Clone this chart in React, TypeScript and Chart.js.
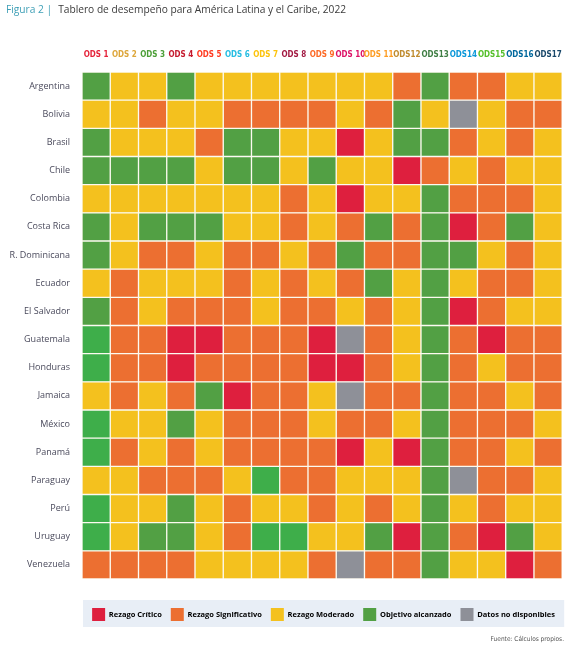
import React, { useEffect, useRef } from "react";
import { Chart, registerables } from "chart.js";

Chart.register(...registerables);

// ---- Data ----
const countries = [
  "Argentina", "Bolivia", "Brasil", "Chile", "Colombia", "Costa Rica",
  "R. Dominicana", "Ecuador", "El Salvador", "Guatemala", "Honduras", "Jamaica",
  "México", "Panamá", "Paraguay", "Perú", "Uruguay", "Venezuela",
];

const odsLabels = [
  "ODS 1", "ODS 2", "ODS 3", "ODS 4", "ODS 5", "ODS 6", "ODS 7", "ODS 8", "ODS 9",
  "ODS 10", "ODS 11", "ODS12", "ODS13", "ODS14", "ODS15", "ODS16", "ODS17",
];

const odsColors = [
  "#E5243B", "#DDA63A", "#4C9F38", "#C5192D", "#FF3A21", "#26BDE2", "#FCC30B",
  "#A21942", "#FD6925", "#DD1367", "#FD9D24", "#BF8B2E", "#3F7E44", "#0A97D9",
  "#56C02B", "#00689D", "#19486A",
];

// C = Rezago Crítico, S = Rezago Significativo, M = Rezago Moderado,
// A = Objetivo alcanzado, G = Objetivo alcanzado (tono claro), N = Datos no disponibles
const argentina = ["A","M","M","A","M","M","M","M","M","M","M","S","A","S","S","M","M"];
const bolivia = ["M","M","S","M","M","S","S","S","S","M","S","A","M","N","M","S","S"];
const brasil = ["A","M","M","M","S","A","A","M","M","C","M","A","A","S","M","S","M"];
const chile = ["A","A","A","A","M","A","A","M","A","M","M","C","S","M","S","M","M"];
const colombia = ["M","M","M","M","M","M","M","S","M","C","M","M","A","S","S","S","M"];
const costaRica = ["A","M","A","A","A","M","M","S","M","S","A","S","A","C","S","A","M"];
const rDominicana = ["A","M","S","S","M","S","S","M","S","A","S","S","A","A","M","S","M"];
const ecuador = ["M","S","M","M","M","S","M","S","M","S","A","M","A","M","S","S","M"];
const elSalvador = ["A","S","M","S","S","S","M","S","S","M","S","M","A","C","S","M","M"];
const guatemala = ["G","S","S","C","C","S","S","S","C","N","S","M","A","S","C","S","S"];
const honduras = ["G","S","S","C","S","S","S","S","C","C","S","M","A","S","M","S","S"];
const jamaica = ["M","S","M","S","A","C","S","S","M","N","S","S","A","S","S","M","S"];
const mexico = ["G","M","M","A","M","S","S","S","M","S","S","M","A","S","S","S","M"];
const panama = ["G","S","M","S","M","S","S","S","S","C","M","C","A","S","S","M","S"];
const paraguay = ["M","M","S","S","S","M","G","S","S","M","M","M","A","N","S","S","M"];
const peru = ["G","M","M","A","M","S","M","M","S","M","S","M","A","M","S","M","M"];
const uruguay = ["G","M","A","A","M","S","G","G","M","M","A","C","A","S","C","A","M"];
const venezuela = ["S","S","S","S","M","M","M","M","S","N","S","S","A","M","M","C","S"];

const statusRows = [
  argentina, bolivia, brasil, chile, colombia, costaRica, rDominicana, ecuador,
  elSalvador, guatemala, honduras, jamaica, mexico, panama, paraguay, peru,
  uruguay, venezuela,
];

const legendLabels = [
  "Rezago Crítico", "Rezago Significativo", "Rezago Moderado",
  "Objetivo alcanzado", "Datos no disponibles",
];
const legendCodes = ["C", "S", "M", "A", "N"];

const statusColors: Record<string, string> = {
  C: "#DE1F3E",
  S: "#EC6F31",
  M: "#F4C11E",
  A: "#52A044",
  G: "#3EAE4A",
  N: "#8E9098",
};

const legendBgPlugin = {
  id: "legendBg",
  beforeDraw(chart: any) {
    const lg = chart.legend;
    const ca = chart.chartArea;
    if (!lg || !ca) return;
    const ctx = chart.ctx;
    ctx.save();
    ctx.fillStyle = "#E8EEF6";
    ctx.fillRect(ca.left + 1, lg.top + 1, ca.right - ca.left + 1, 27);
    ctx.restore();
  },
};

export default function App() {
  const ref = useRef<HTMLCanvasElement | null>(null);

  useEffect(() => {
    if (!ref.current) return;
    const datasets = odsLabels.map((label, j) => ({
      label,
      data: countries.map(() => 1),
      backgroundColor: statusRows.map((row) => statusColors[row[j]]),
      borderColor: "#FCFAF0",
      borderWidth: 1,
      borderSkipped: false as const,
      barPercentage: 1,
      categoryPercentage: 1,
    }));

    const chart = new Chart(ref.current, {
      type: "bar",
      data: { labels: countries, datasets },
      plugins: [legendBgPlugin],
      options: {
        indexAxis: "y",
        animation: false,
        responsive: false,
        devicePixelRatio: 1,
        layout: { padding: { top: 0, right: 10, left: 0, bottom: 27 } },
        scales: {
          x: {
            type: "linear",
            stacked: true,
            min: 0,
            max: odsLabels.length,
            position: "bottom",
            ticks: { display: false },
            grid: { display: false, drawTicks: false },
            border: { display: false },
            afterFit: (s: any) => { s.height = 20; },
          },
          x2: {
            type: "category",
            axis: "x",
            position: "top",
            labels: odsLabels,
            offset: true,
            grid: { display: false, drawTicks: false },
            border: { display: false },
            ticks: {
              padding: 12,
              maxRotation: 0,
              autoSkip: false,
              color: (c: any) => odsColors[c.index] || "#333",
              font: { family: "'Liberation Sans Narrow', 'DejaVu Sans Condensed', sans-serif", size: 8, weight: "bold" },
            },
            afterFit: (s: any) => { s.height = 72; },
          },
          y: {
            type: "category",
            stacked: true,
            offset: true,
            grid: { display: false, drawTicks: false },
            border: { display: false },
            ticks: {
              padding: 12,
              autoSkip: false,
              color: "#4A4A5C",
              font: { family: "'Open Sans', sans-serif", size: 9 },
            },
            afterFit: (s: any) => { s.width = 82; },
          },
        },
        plugins: {
          tooltip: { enabled: false },
          legend: {
            display: true,
            position: "bottom",
            fullSize: true,
            align: "end",
            labels: {
              boxWidth: 13,
              boxHeight: 13,
              padding: 9,
              color: "#222",
              font: { family: "'Open Sans', sans-serif", size: 7.5, weight: "bold" },
              generateLabels: () =>
                legendLabels.map((text, i) => ({
                  text,
                  fillStyle: statusColors[legendCodes[i]],
                  strokeStyle: statusColors[legendCodes[i]],
                  lineWidth: 0,
                  hidden: false,
                  datasetIndex: i,
                })),
            },
          },
        },
      },
    });
    return () => chart.destroy();
  }, []);

  return (
    <div style={{ position: "absolute", left: 0, top: 0, width: 574, height: 658, background: "#fff" }}>
      <canvas ref={ref} width={574} height={658} style={{ display: "block" }} />
      <div
        style={{
          position: "absolute", left: 6, top: 2, whiteSpace: "nowrap",
          fontFamily: "'Open Sans', sans-serif", fontSize: 10.2, color: "#3A3A3A", lineHeight: "14px",
        }}
      >
        <span style={{ color: "#3E9FB6" }}>Figura 2 |</span>
        <span style={{ marginLeft: 6 }}>Tablero de desempeño para América Latina y el Caribe, 2022</span>
      </div>
      <div
        style={{
          position: "absolute", right: 10, top: 633, whiteSpace: "nowrap",
          fontFamily: "'Liberation Sans Narrow', 'DejaVu Sans Condensed', sans-serif", fontSize: 6.5, color: "#555", lineHeight: "12px",
        }}
      >
        Fuente: Cálculos propios.
      </div>
    </div>
  );
}
